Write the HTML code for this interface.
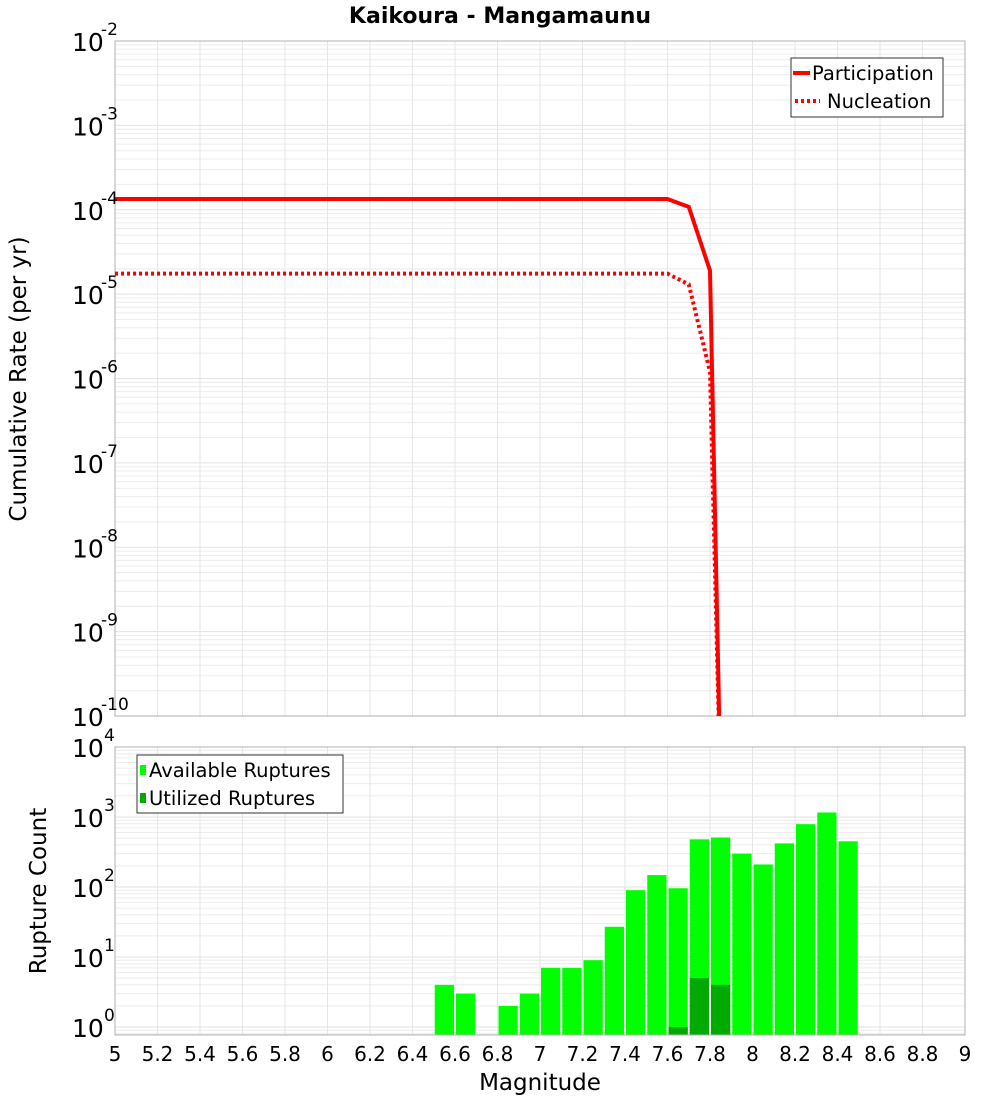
<!DOCTYPE html>
<html><head><meta charset="utf-8"><style>
html,body{margin:0;background:#fff;width:1000px;height:1100px;overflow:hidden;}
svg{display:block;}
svg text{font-family:"DejaVu Sans","Liberation Sans",sans-serif;}
</style></head><body>
<svg id="c" width="1000" height="1100" xmlns="http://www.w3.org/2000/svg"></svg>
<script>
const mags=[5.0,5.1,5.2,5.3,5.4,5.5,5.6,5.7,5.8,5.9,6.0,6.1,6.2,6.3,6.4,6.5,6.6,6.7,6.8,6.9,7.0,7.1,7.2,7.3,7.4,7.5,7.6,7.7,7.8,7.9];
const participation=[1.34e-4,1.34e-4,1.34e-4,1.34e-4,1.34e-4,1.34e-4,1.34e-4,1.34e-4,1.34e-4,1.34e-4,1.34e-4,1.34e-4,1.34e-4,1.34e-4,1.34e-4,1.34e-4,1.34e-4,1.34e-4,1.34e-4,1.34e-4,1.34e-4,1.34e-4,1.34e-4,1.34e-4,1.34e-4,1.34e-4,1.34e-4,1.08e-4,1.9e-5,1e-17];
const nucleation=[1.75e-5,1.75e-5,1.75e-5,1.75e-5,1.75e-5,1.75e-5,1.75e-5,1.75e-5,1.75e-5,1.75e-5,1.75e-5,1.75e-5,1.75e-5,1.75e-5,1.75e-5,1.75e-5,1.75e-5,1.75e-5,1.75e-5,1.75e-5,1.75e-5,1.75e-5,1.75e-5,1.75e-5,1.75e-5,1.75e-5,1.75e-5,1.3e-5,1.2e-6,1e-16];
const binCenters=[6.55,6.65,6.75,6.85,6.95,7.05,7.15,7.25,7.35,7.45,7.55,7.65,7.75,7.85,7.95,8.05,8.15,8.25,8.35,8.45];
const available=[4,3,0,2,3,7,7,9,27,90,148,96,480,510,300,210,420,790,1160,450];
const utilized=[0,0,0,0,0,0,0,0,0,0,0,1,5,4,0,0,0,0,0,0];
const xTicks=[5,5.2,5.4,5.6,5.8,6,6.2,6.4,6.6,6.8,7,7.2,7.4,7.6,7.8,8,8.2,8.4,8.6,8.8,9];
const topExps=[-10,-9,-8,-7,-6,-5,-4,-3,-2];
const botExps=[0,1,2,3,4];

const svg=document.getElementById('c');
const NS='http://www.w3.org/2000/svg';
function el(t,a,p){const e=document.createElementNS(NS,t);for(const k in a)e.setAttribute(k,a[k]);(p||svg).appendChild(e);return e;}
const L=115,R=965;
const X=m=>L+(m-5)/4*(R-L);
const T1=41,B1=716;
const Y1=v=>T1+(-2-Math.log10(v))*(B1-T1)/8;
const T2=747,B2=1035,DEC2=70;
const Y2=v=>T2+(4-Math.log10(v))*DEC2;

function grid(top,bot,ylo,yhi,Yf,name){
  const g=el('g',{});
  
  
  for(let e=ylo;e<yhi;e++)for(let k=1;k<10;k++){const y=Yf(k*Math.pow(10,e));if(y<top||y>bot)continue;el('line',{x1:L,x2:R,y1:y,y2:y,stroke:k==1?'#e2e2e2':'#ececec','stroke-width':1},g);}
  xTicks.forEach(t=>{el('line',{x1:X(t),x2:X(t),y1:top,y2:bot,stroke:'#e6e6e6','stroke-width':1},g);});
}
const ti=el('text',{x:500,y:23,'text-anchor':'middle','font-size':22,'font-weight':'bold'});ti.textContent='Kaikoura - Mangamaunu';


grid(T1,B1,-10,-2,Y1,'top-grid');
el('rect',{x:L,y:T1,width:R-L,height:B1-T1,fill:'none',stroke:'#b0b0b0'});
const cp=el('clipPath',{id:'cp1'});el('rect',{x:L,y:T1,width:R-L,height:B1-T1},cp);
function line(arr,dash,name){
  const d=arr.map((v,i)=>(i?'L':'M')+X(mags[i]).toFixed(1)+','+Y1(v).toFixed(1)).join(' ');
  const p=el('path',{d:d,fill:'none',stroke:'#ff0000','stroke-width':4,'clip-path':'url(#cp1)'});
  if(dash)p.setAttribute('stroke-dasharray',dash);
  
}
line(participation,null,'participation-line');
line(nucleation,'3,3','nucleation-line');
topExps.forEach(e=>{const y=Y1(Math.pow(10,e));
  const t=el('text',{x:72,y:y+10,'font-size':25});t.textContent='10';
  
  const s=el('text',{x:101,y:y-6,'font-size':17});s.textContent=String(e);});
const yt=el('text',{x:0,y:0,'font-size':23,'text-anchor':'middle',transform:'translate(26,379) rotate(-90)'});yt.textContent='Cumulative Rate (per yr)';

const lg=el('g',{});
el('rect',{x:791,y:58,width:152,height:59,fill:'#fff',stroke:'#333'},lg);
el('line',{x1:793,x2:810,y1:73,y2:73,stroke:'#f00','stroke-width':4},lg);
el('text',{x:812,y:80,'font-size':19.5},lg).textContent='Participation';
el('line',{x1:795,x2:820,y1:101,y2:101,stroke:'#f00','stroke-width':4,'stroke-dasharray':'3,3'},lg);
el('text',{x:827,y:108,'font-size':19.5},lg).textContent='Nucleation';

grid(T2,B2,-1,4,Y2,'bottom-grid');
binCenters.forEach((c,i)=>{
  if(available[i]>0){const y=Y2(available[i]);const r=el('rect',{x:X(c-0.05)+1,y:y,width:X(0.1+5)-L-2,height:B2-y,fill:'#00ff00'});
  }
  if(utilized[i]>0){const y=Y2(utilized[i]);const r=el('rect',{x:X(c-0.05)+1,y:y,width:X(0.1+5)-L-2,height:B2-y,fill:'#00aa00'});
  }
});
el('rect',{x:L,y:T2,width:R-L,height:B2-T2,fill:'none',stroke:'#b0b0b0'});
botExps.forEach(e=>{const y=Y2(Math.pow(10,e));
  const t=el('text',{x:72,y:y+10,'font-size':25});t.textContent='10';
  
  const s=el('text',{x:104,y:y-6,'font-size':17});s.textContent=String(e);});
const yb=el('text',{x:0,y:0,'font-size':23,'text-anchor':'middle',transform:'translate(46,891) rotate(-90)'});yb.textContent='Rupture Count';

xTicks.forEach(t=>{const tx=el('text',{x:X(t),y:1061,'font-size':20,'text-anchor':'middle'});tx.textContent=String(t);
  });
const xt=el('text',{x:540,y:1090,'font-size':23,'text-anchor':'middle'});xt.textContent='Magnitude';

const lb=el('g',{});
el('rect',{x:137,y:755,width:206,height:58,fill:'#fff',stroke:'#333'},lb);
el('rect',{x:140,y:765,width:6,height:10,fill:'#00ff00'},lb);
el('text',{x:149,y:777,'font-size':19.5},lb).textContent='Available Ruptures';
el('rect',{x:140,y:793,width:6,height:10,fill:'#00aa00'},lb);
el('text',{x:149,y:805,'font-size':19.5},lb).textContent='Utilized Ruptures';
</script>
</body></html>
